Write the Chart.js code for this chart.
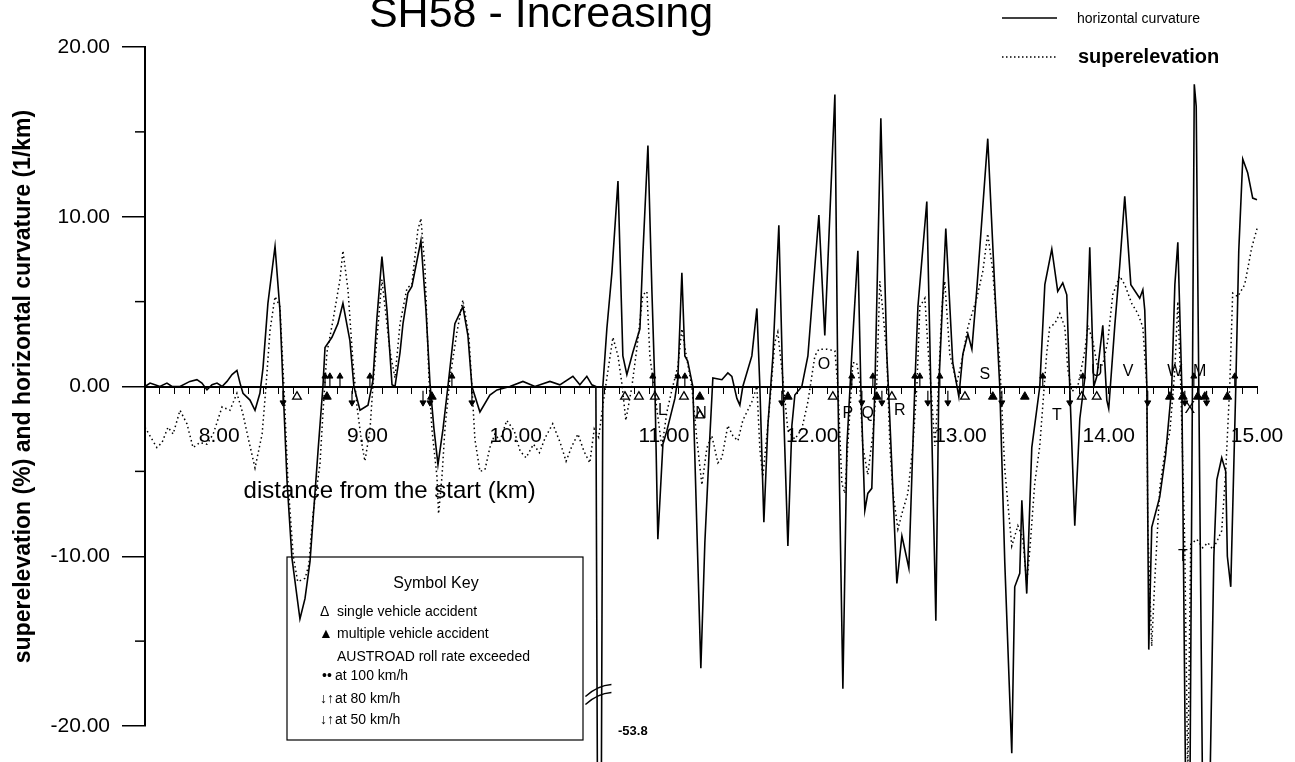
<!DOCTYPE html>
<html>
<head>
<meta charset="utf-8">
<title>SH58 - Increasing</title>
<script src="https://cdn.jsdelivr.net/npm/chart.js@4.4.1/dist/chart.umd.min.js"></script>
<style>
  html, body { margin: 0; padding: 0; background: #fff; }
  #wrap { width: 1295px; height: 762px; }
</style>
</head>
<body>
<div id="wrap"><canvas id="chart" width="1295" height="762"></canvas></div>
<script>
// Chart data (distance in km, values in % or 1/km)
const chartTitle = 'SH58 - Increasing';

const curvKm = [7.50, 7.534, 7.567, 7.60, 7.648, 7.682, 7.736, 7.803, 7.85, 7.884, 7.918, 7.952, 7.986, 8.02, 8.053, 8.087, 8.12, 8.141, 8.161, 8.208,
  8.242, 8.275, 8.296, 8.329, 8.377, 8.41, 8.431, 8.458, 8.491, 8.545, 8.579, 8.613, 8.667, 8.70, 8.714, 8.761, 8.801, 8.835, 8.882, 8.909,
  8.95, 9.004, 9.037, 9.064, 9.098, 9.132, 9.166, 9.186, 9.22, 9.24, 9.273, 9.30, 9.361, 9.395, 9.422, 9.449, 9.476, 9.51, 9.543, 9.59,
  9.644, 9.678, 9.705, 9.759, 9.826, 9.874, 9.961, 10.049, 10.13, 10.231, 10.298, 10.386, 10.433, 10.48, 10.514, 10.541, 10.565, 10.588, 10.615, 10.649,
  10.69, 10.723, 10.75, 10.79, 10.838, 10.858, 10.892, 10.919, 10.939, 10.959, 10.993, 11.02, 11.074, 11.094, 11.121, 11.141, 11.16, 11.195, 11.249, 11.276,
  11.31, 11.33, 11.391, 11.431, 11.458, 11.492, 11.512, 11.532, 11.593, 11.627, 11.647, 11.674, 11.701, 11.735, 11.775, 11.802, 11.836, 11.863, 11.883, 11.93,
  11.971, 12.045, 12.085, 12.153, 12.173, 12.207, 12.234, 12.267, 12.308, 12.328, 12.355, 12.375, 12.402, 12.423, 12.463, 12.503, 12.517, 12.571, 12.605, 12.625,
  12.652, 12.692, 12.713, 12.773, 12.80, 12.834, 12.854, 12.901, 12.948, 12.989, 13.016, 13.05, 13.077, 13.11, 13.184, 13.232, 13.265, 13.299, 13.346, 13.366,
  13.40, 13.414, 13.427, 13.447, 13.481, 13.535, 13.569, 13.616, 13.656, 13.69, 13.717, 13.737, 13.771, 13.805, 13.839, 13.852, 13.872, 13.899, 13.92, 13.96,
  13.987, 14.0, 14.041, 14.074, 14.108, 14.149, 14.209, 14.23, 14.243, 14.257, 14.27, 14.29, 14.344, 14.384, 14.425, 14.446, 14.466, 14.493, 14.52, 14.547,
  14.577, 14.59, 14.634, 14.68, 14.709, 14.729, 14.762, 14.789, 14.80, 14.823, 14.857, 14.877, 14.904, 14.937, 14.971, 15.0];
const curvVal = [0, 0.2, 0.1, 0, 0.2, 0, 0, 0.3, 0.4, 0.2, -0.2, 0.1, 0.2, 0, 0.3, 0.7, 0.95, 0.2, -0.4, -0.8,
  -1.4, -0.4, 1.1, 4.9, 8.25, 4.5, 0, -5.6, -10.1, -13.7, -12.5, -10.3, -3.8, 0, 2.3, 2.9, 3.7, 4.9, 2.7, 0,
  -1.4, -1.1, 0.35, 4.0, 7.65, 4.5, 0.1, 0, 2.0, 3.7, 5.5, 5.9, 8.6, 4.5, 0.2, -2.5, -4.6, -2.5, 0, 3.7,
  4.7, 3.0, 0, -1.5, -0.5, -0.2, 0, 0.3, 0, 0.3, 0.1, 0.6, 0.1, 0.6, 0.1, 0, -53.8, 0, 3.4, 6.7,
  12.1, 1.8, 0.7, 2.0, 3.4, 7.8, 14.2, 5.6, 0, -9.0, -3.4, -2.6, -0.7, 0.5, 6.7, 1.8, 1.5, 0, -16.6, -9.2,
  -2.9, 0.5, 0.4, 0.8, 0.6, -0.7, -1.1, 0, 1.8, 4.6, 0, -8.0, -2.3, 1.8, 9.5, 0, -9.4, -2.3, -0.5, 0,
  1.8, 10.1, 3.0, 17.2, 0, -17.8, -3.5, 1.9, 8.0, 0, -7.3, -6.3, -6.0, 0, 15.8, 1.9, -0.6, -11.6, -8.8, -9.6,
  -10.7, 0, 4.7, 10.9, 0, -13.8, 0, 9.3, 1.4, -0.6, 1.9, 3.1, 2.2, 5.7, 14.6, 5.7, 0, -10.4, -21.6, -11.8,
  -11.0, -6.7, -9.0, -12.2, -3.6, 0, 6.0, 8.1, 5.6, 6.1, 5.4, 0, -8.2, -1.9, 0.5, 2.7, 8.2, 0, 0.6, 3.6,
  -0.8, -1.3, 3.6, 7.1, 11.2, 6.0, 5.2, 5.7, 4.5, 0, -15.5, -8.3, -6.5, -4.0, 0, 6.0, 8.5, 0, -25, -25,
  17.8, 16.5, -25, -25, -10, -5.5, -4.2, -5.0, -10, -11.8, 0, 8.0, 13.4, 12.6, 11.1, 11.0];

const superKm = [7.50, 7.513, 7.58, 7.615, 7.655, 7.69, 7.736, 7.783, 7.824, 7.87, 7.918, 7.96, 8.02, 8.073, 8.12, 8.16, 8.195, 8.242, 8.29, 8.316,
  8.343, 8.377, 8.41, 8.437, 8.464, 8.50, 8.53, 8.58, 8.605, 8.633, 8.68, 8.70, 8.727, 8.768, 8.815, 8.835, 8.869, 8.903, 8.93, 8.963,
  8.983, 9.017, 9.037, 9.098, 9.152, 9.186, 9.22, 9.267, 9.30, 9.34, 9.361, 9.388, 9.415, 9.435, 9.469, 9.48, 9.503, 9.523, 9.557, 9.604,
  9.644, 9.685, 9.705, 9.725, 9.759, 9.793, 9.826, 9.86, 9.894, 9.94, 9.99, 10.03, 10.07, 10.12, 10.16, 10.2, 10.25, 10.3, 10.34, 10.38,
  10.42, 10.46, 10.5, 10.53, 10.56, 10.59, 10.615, 10.656, 10.69, 10.716, 10.743, 10.784, 10.818, 10.858, 10.885, 10.905, 10.94, 10.986, 11.02, 11.054,
  11.094, 11.121, 11.155, 11.188, 11.222, 11.256, 11.29, 11.323, 11.364, 11.391, 11.431, 11.465, 11.499, 11.532, 11.593, 11.627, 11.647, 11.667, 11.701, 11.748,
  11.768, 11.802, 11.836, 11.883, 11.93, 11.971, 12.018, 12.045, 12.099, 12.153, 12.173, 12.20, 12.22, 12.24, 12.274, 12.30, 12.32, 12.341, 12.375, 12.409,
  12.436, 12.456, 12.476, 12.503, 12.524, 12.544, 12.578, 12.611, 12.645, 12.679, 12.706, 12.726, 12.76, 12.78, 12.807, 12.827, 12.847, 12.874, 12.894, 12.928,
  12.975, 13.009, 13.05, 13.11, 13.151, 13.184, 13.218, 13.265, 13.299, 13.346, 13.387, 13.42, 13.447, 13.468, 13.501, 13.535, 13.582, 13.602, 13.636, 13.67,
  13.704, 13.724, 13.751, 13.791, 13.839, 13.859, 13.892, 13.926, 13.96, 13.994, 14.027, 14.074, 14.108, 14.155, 14.196, 14.23, 14.257, 14.263, 14.29, 14.31,
  14.344, 14.378, 14.412, 14.446, 14.466, 14.486, 14.512, 14.533, 14.553, 14.594, 14.634, 14.668, 14.702, 14.736, 14.762, 14.789, 14.816, 14.836, 14.87, 14.917,
  14.965, 15.0];
const superVal = [-2.4, -2.6, -3.6, -3.3, -2.4, -2.8, -1.4, -2.2, -3.6, -3.3, -3.4, -2.8, -1.2, -1.4, -0.4, -1.6, -3.0, -4.8, -2.8, 0,
  3.3, 5.3, 4.7, 0, -5.6, -10.0, -11.5, -11.3, -10.5, -7.5, -4.6, -1.6, 2.0, 3.9, 6.3, 8.0, 5.7, 1.4, -1.2, -3.4,
  -4.4, -2.6, 0, 6.3, 2.1, 0.5, 3.7, 5.8, 6.0, 9.2, 9.9, 7.0, 0.5, -2.5, -5.3, -7.5, -5.3, -2.5, 0.5, 3.2,
  5.1, 2.9, 0, -3.1, -5.0, -4.9, -3.6, -2.8, -3.2, -2.0, -2.6, -3.8, -4.2, -3.4, -3.9, -3.0, -2.2, -3.3, -4.4, -3.5,
  -2.8, -3.8, -4.5, -2.5, -3.0, -1.0, 0.5, 2.9, 1.8, 0.2, -2.0, 0, 2.3, 5.4, 5.6, 1.8, -0.5, -3.6, -1.5, -0.2,
  1.2, 3.4, 1.6, 0, -3.1, -5.8, -3.6, -2.9, -4.5, -4.2, -2.3, -2.9, -3.2, -2.0, -0.9, 0, -3.7, -5.3, -2.3, 2.6,
  3.2, 0.5, -2.6, -3.1, -2.5, -0.9, 1.8, 2.2, 2.2, 2.1, 0, -5.7, -6.3, -3.5, 1.4, 1.4, 0.3, -3.5, -5.2, -2.8,
  0.3, 6.2, 4.5, 1.9, -3.5, -6.2, -8.4, -7.3, -6.3, -3.5, 0, 4.7, 5.2, 2.4, -0.8, -3.5, -0.8, 4.6, 6.2, 1.9,
  0.2, 1.5, 3.5, 5.2, 6.8, 9.0, 6.8, 1.4, -4.9, -9.4, -8.2, -8.9, -11.6, -9.6, -5.7, -3.5, 2.0, 3.5, 3.7, 4.3,
  3.5, 1.0, -0.3, 0, 2.1, 3.6, 2.7, 1.1, 1.3, 2.7, 5.4, 6.5, 6.0, 4.9, 4.3, 3.5, 0, -8.2, -15.3, -11.5,
  -6.0, -3.9, -2.7, 1.0, 5.0, 0, -9.0, -23, -9.3, -9.0, -9.5, -9.2, -9.6, -9.0, -8.5, -5.0, 0, 5.5, 5.3, 6.0,
  8.2, 9.3];

// accident / roll-rate markers along the road (km)
const singleKm = [8.525, 10.737, 10.831, 10.939, 11.135, 12.139, 12.537, 13.03, 13.818, 13.919];
const singleLowKm = [11.242];
const multiKm = [8.727, 9.435, 11.242, 11.836, 12.436, 13.218, 13.434, 14.412, 14.50, 14.60, 14.648, 14.80];
const upArrowKm = [8.714, 8.747, 8.815, 9.017, 9.57, 10.925, 11.094, 11.141, 12.267, 12.409, 12.692, 12.726, 12.861, 13.555, 13.825, 14.574, 14.85];
const downArrowKm = [8.431, 8.896, 9.375, 9.422, 9.705, 11.795, 12.335, 12.47, 12.78, 12.915, 13.279, 13.737, 14.263, 14.513, 14.66];

// site letters
const siteLabels = ['L', 'N', 'O', 'P', 'Q', 'R', 'S', 'T', 'U', 'V', 'W', 'M', 'X', 'T'];
const siteKm = [10.99, 11.25, 12.08, 12.24, 12.375, 12.59, 13.164, 13.65, 13.92, 14.13, 14.446, 14.614, 14.547, 14.5];
const siteVal = [-1.4, -1.6, 1.3, -1.6, -1.6, -1.4, 0.7, -1.7, 0.9, 0.9, 0.9, 0.9, -1.3, -10.0];

const minorYTicks = [15, 5, -5, -15];
const FONT = '"Liberation Sans", Arial, Helvetica, sans-serif';

const toXY = (xs, ys) => xs.map((x, i) => ({ x: x, y: ys[i] }));
const atY = (xs, yv) => xs.map(x => ({ x: x, y: yv }));

// extra drawing: title, legend, key box, letters, axis extras
const annotations = {
  id: 'annotations',
  afterDraw(chart) {
    const { ctx, scales: { x, y } } = chart;
    ctx.save();
    ctx.strokeStyle = '#000';
    ctx.fillStyle = '#000';

    // minor ticks on the y axis
    ctx.lineWidth = 1.5;
    minorYTicks.forEach(v => {
      const py = y.getPixelForValue(v);
      ctx.beginPath();
      ctx.moveTo(x.left - 10, py);
      ctx.lineTo(x.left, py);
      ctx.stroke();
    });

    // title (top partly cut off in the scan)
    ctx.font = '43px ' + FONT;
    ctx.textAlign = 'center';
    ctx.textBaseline = 'alphabetic';
    ctx.fillText(chartTitle, 541, 27);

    // legend
    ctx.lineWidth = 1.6;
    ctx.beginPath();
    ctx.moveTo(1002, 18); ctx.lineTo(1057, 18);
    ctx.stroke();
    ctx.setLineDash([1.5, 2.5]);
    ctx.beginPath();
    ctx.moveTo(1002, 57); ctx.lineTo(1057, 57);
    ctx.stroke();
    ctx.setLineDash([]);
    ctx.textAlign = 'left';
    ctx.textBaseline = 'middle';
    ctx.font = '14px ' + FONT;
    ctx.fillText('horizontal curvature', 1077, 19);
    ctx.font = 'bold 20px ' + FONT;
    ctx.fillText('superelevation', 1078, 57);

    // x axis title
    ctx.font = '24px ' + FONT;
    ctx.textAlign = 'center';
    ctx.fillText('distance from the start (km)', x.getPixelForValue(9.15), y.getPixelForValue(-6.2));

    // site letters
    ctx.font = '16px ' + FONT;
    siteLabels.forEach((t, i) => {
      ctx.fillText(t, x.getPixelForValue(siteKm[i]), y.getPixelForValue(siteVal[i]));
    });

    // off-scale spike: break mark and value
    const bx = x.getPixelForValue(10.565);
    const by = y.getPixelForValue(-18.2);
    ctx.lineWidth = 1.4;
    [-4, 4].forEach(off => {
      ctx.beginPath();
      ctx.moveTo(bx - 14, by + off + 5);
      ctx.quadraticCurveTo(bx - 2, by + off - 6, bx + 12, by + off - 7);
      ctx.stroke();
    });
    ctx.font = 'bold 13px ' + FONT;
    ctx.fillText('-53.8', x.getPixelForValue(10.79), y.getPixelForValue(-20.3));

    // symbol key box
    ctx.lineWidth = 1.2;
    ctx.strokeRect(287, 557, 296, 183);
    ctx.textAlign = 'center';
    ctx.font = '16px ' + FONT;
    ctx.fillText('Symbol Key', 436, 584);
    ctx.textAlign = 'left';
    ctx.font = '14px ' + FONT;
    ctx.fillText('\u0394', 320, 612);
    ctx.fillText('single vehicle accident', 337, 612);
    ctx.fillText('\u25B2', 319, 634);
    ctx.fillText('multiple vehicle accident', 337, 634);
    ctx.fillText('AUSTROAD roll rate exceeded', 337, 657);
    ctx.fillText('\u2022\u2022', 322, 676);
    ctx.fillText('at 100 km/h', 335, 676);
    ctx.fillText('\u2193\u2191', 320, 699);
    ctx.fillText('at 80 km/h', 335, 699);
    ctx.fillText('\u2193\u2191', 320, 720);
    ctx.fillText('at 50 km/h', 335, 720);
    ctx.restore();
  }
};

new Chart(document.getElementById('chart'), {
  type: 'scatter',
  data: {
    datasets: [
      {
        label: 'horizontal curvature',
        data: toXY(curvKm, curvVal),
        showLine: true,
        borderColor: '#000',
        borderWidth: 1.6,
        pointRadius: 0,
        tension: 0,
        clip: false
      },
      {
        label: 'superelevation',
        data: toXY(superKm, superVal),
        showLine: true,
        borderColor: '#000',
        borderWidth: 1.5,
        borderDash: [1.5, 3],
        pointRadius: 0,
        tension: 0,
        clip: false
      },
      {
        label: 'single vehicle accident',
        data: atY(singleKm, -0.6).concat(atY(singleLowKm, -1.7)),
        pointStyle: 'triangle',
        pointRadius: 5,
        pointBackgroundColor: '#fff',
        pointBorderColor: '#000',
        pointBorderWidth: 1.3
      },
      {
        label: 'multiple vehicle accident',
        data: atY(multiKm, -0.6),
        pointStyle: 'triangle',
        pointRadius: 5,
        pointBackgroundColor: '#000',
        pointBorderColor: '#000',
        pointBorderWidth: 1
      },
      {
        label: 'roll rate up',
        data: atY(upArrowKm, 0.6),
        pointStyle: 'triangle',
        pointRadius: 3.5,
        pointBackgroundColor: '#000',
        pointBorderColor: '#000',
        pointBorderWidth: 1
      },
      {
        label: 'roll rate up stem',
        data: atY(upArrowKm, 0.3),
        pointStyle: 'line',
        pointRotation: 90,
        pointRadius: 5,
        pointBorderColor: '#000',
        pointBorderWidth: 1.2
      },
      {
        label: 'roll rate down',
        data: atY(downArrowKm, -0.95),
        pointStyle: 'triangle',
        pointRotation: 180,
        pointRadius: 3.5,
        pointBackgroundColor: '#000',
        pointBorderColor: '#000',
        pointBorderWidth: 1
      },
      {
        label: 'roll rate down stem',
        data: atY(downArrowKm, -0.55),
        pointStyle: 'line',
        pointRotation: 90,
        pointRadius: 5,
        pointBorderColor: '#000',
        pointBorderWidth: 1.2
      }
    ]
  },
  options: {
    responsive: false,
    animation: false,
    events: [],
    layout: { padding: { left: 0, right: 38, top: 47, bottom: 36 } },
    plugins: {
      legend: { display: false },
      tooltip: { enabled: false }
    },
    scales: {
      x: {
        type: 'linear',
        position: { y: 0 },
        min: 7.5,
        max: 15.0,
        afterFit: (scale) => { scale.paddingLeft = 0; scale.paddingRight = 0; },
        ticks: {
          stepSize: 0.1,
          maxTicksLimit: 100,
          autoSkip: false,
          maxRotation: 0,
          padding: 31,
          color: '#000',
          font: { family: FONT, size: 21 },
          callback: (v) => Math.abs(v - Math.round(v)) < 1e-6 ? Number(v).toFixed(2) : ''
        },
        grid: { display: true, drawOnChartArea: false, tickLength: 6, color: '#000', lineWidth: 1 },
        border: { display: true, color: '#000', width: 2 }
      },
      y: {
        type: 'linear',
        position: 'left',
        min: -20,
        max: 20,
        afterFit: (scale) => { scale.width = 145; },
        ticks: {
          stepSize: 10,
          padding: 12,
          color: '#000',
          font: { family: FONT, size: 21 },
          callback: (v) => Number(v).toFixed(2)
        },
        grid: { display: true, drawOnChartArea: false, tickLength: 23, color: '#000', lineWidth: 1.5 },
        border: { display: true, color: '#000', width: 2 },
        title: {
          display: true,
          text: 'superelevation (%) and horizontal curvature (1/km)',
          color: '#000',
          font: { family: FONT, size: 23, weight: 'bold' },
          padding: { top: 10, bottom: 0 }
        }
      }
    }
  },
  plugins: [annotations]
});
</script>
</body>
</html>
